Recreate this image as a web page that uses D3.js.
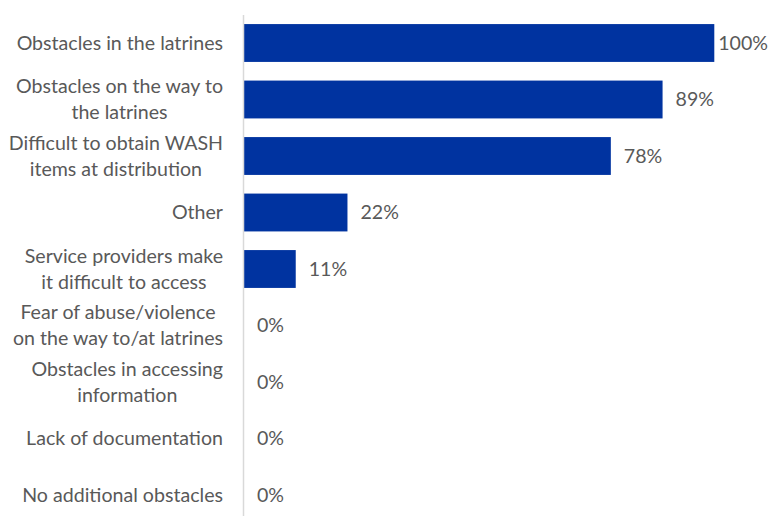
<!DOCTYPE html>
<html>
<head>
<meta charset="utf-8">
<script src="https://cdn.jsdelivr.net/npm/d3@7"></script>
<style>
  html, body { margin: 0; padding: 0; background: #fff; }
  svg { display: block; }
  text { font-family: Lato, "Noto Sans", sans-serif; fill: #595959; }
</style>
</head>
<body>
<svg id="chart" width="769" height="516"></svg>
<script>
// Reported obstacles to WASH access (% of respondents)
const categories = [
  ["Obstacles in the latrines"],
  ["Obstacles on the way to", "the latrines"],
  ["Difficult to obtain WASH", "items at distribution"],
  ["Other"],
  ["Service providers make", "it difficult to access"],
  ["Fear of abuse/violence", "on the way to/at latrines"],
  ["Obstacles in accessing", "information"],
  ["Lack of documentation"],
  ["No additional obstacles"]
];
const values = [100, 89, 78, 22, 11, 0, 0, 0, 0];
const valueLabels = ["100%", "89%", "78%", "22%", "11%", "0%", "0%", "0%", "0%"];

const W = 769, H = 516;
const svg = d3.select("#chart");
const fontSize = 19.6;

const ids = d3.range(categories.length);
const y = d3.scaleBand().domain(ids).range([14.75, 523.25]).paddingInner(0.33).paddingOuter(0.165);
const x = d3.scaleLinear().domain([0, 100]).range([244, 714.3]);

// bars
svg.append("g").selectAll("rect").data(ids).join("rect")
  .attr("x", x(0))
  .attr("y", i => y(i))
  .attr("width", i => x(values[i]) - x(0))
  .attr("height", y.bandwidth())
  .attr("fill", "#0033a0");

// vertical category axis line
svg.append("line")
  .attr("x1", 243.5).attr("x2", 243.5)
  .attr("y1", 15).attr("y2", H)
  .attr("stroke", "#d9d9d9").attr("stroke-width", 1.5);

// category labels: block right-aligned to the axis, lines centred within it
const labelRight = 223;
const lineGap = 26;
const lg = svg.append("g").attr("font-size", fontSize);
ids.forEach(i => {
  const lines = categories[i];
  const cy = y(i) + y.bandwidth() / 2;
  const ts = lines.map((t, k) => lg.append("text")
    .attr("y", cy + (k - (lines.length - 1) / 2) * lineGap)
    .attr("dy", "0.35em")
    .text(t));
  const maxW = d3.max(ts, t => t.node().getComputedTextLength());
  ts.forEach(t => t.attr("x", labelRight - maxW / 2).attr("text-anchor", "middle"));
});

// value labels
const vg = svg.append("g").attr("font-size", fontSize);
ids.forEach(i => {
  const t = vg.append("text")
    .attr("x", x(values[i]) + 13)
    .attr("y", y(i) + y.bandwidth() / 2)
    .attr("dy", "0.35em")
    .text(valueLabels[i]);
  const w = t.node().getComputedTextLength();
  if (x(values[i]) + 13 + w > W - 1) t.attr("x", W - 1 - w);
});
</script>
</body>
</html>
